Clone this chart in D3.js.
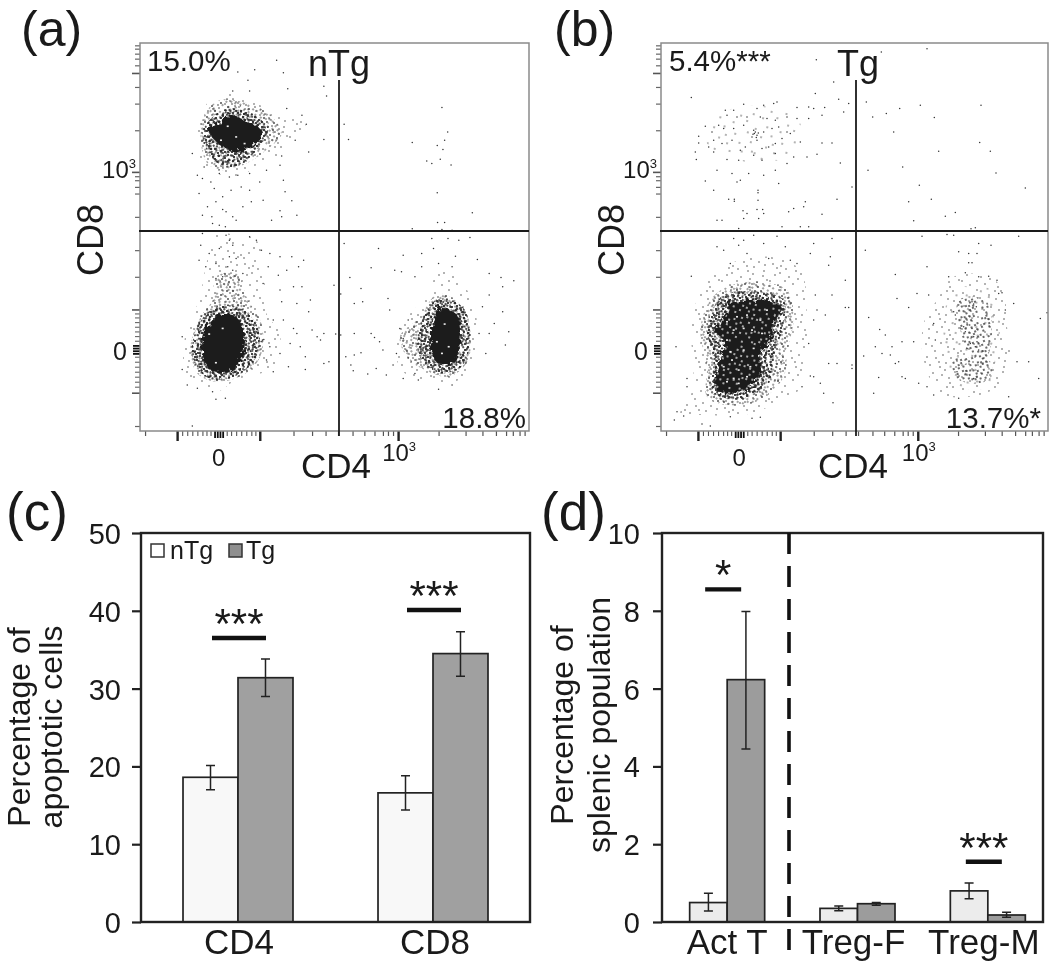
<!DOCTYPE html>
<html><head><meta charset="utf-8">
<script src="https://cdn.jsdelivr.net/npm/d3@7"></script>
<style>html,body{margin:0;background:#fff}svg{display:block;filter:blur(.4px)}text{font-family:"Liberation Sans",Arial,sans-serif;fill:#1a1a1a}</style>
</head><body><div id="c"></div>
<script>
// ---------- bar data ----------
const seriesNames=["nTg","Tg"];
const catsC=["CD4","CD8"];
const nTgC=[18.6,16.6], nTgCLow=[17.0,14.4], nTgCHigh=[20.1,18.8];
const tgC=[31.4,34.5], tgCLow=[29.0,31.6], tgCHigh=[33.8,37.3];
const sigC=[["CD4",36.5,"***"],["CD8",40.1,"***"]];
const catsD=["Act T","Treg-F","Treg-M"];
const nTgD=[0.5,0.35,0.8], nTgDLow=[0.28,0.29,0.6], nTgDHigh=[0.74,0.41,1.0];
const tgD=[6.23,0.47,0.18], tgDLow=[4.45,0.43,0.12], tgDHigh=[7.98,0.5,0.25];
const sigD=[["Act T",8.55,"*"],["Treg-M",1.55,"***"]];
const ticksC=[0,10,20,30,40,50], ticksD=[0,2,4,6,8,10];
// ---------- flow cytometry: channel readings (shared axis channels) ----------
const axisXMajor=[525,770,1180];
const axisXMinor=[430,870,925,965,1002,1045,1080,1110,1135,1150,1165,1300,1380,1430,1470,1500,1520,1540,1555];
const axisXSmall=[540,555,570,585,600,612,624,672,685,700,715,730,745,757];
const axisXDense=[636,644,652,660];
const axisYMajor=[1178,928,515,218];
const axisYMinor=[1278,830,750,650,580,560,540,528,390,310,260,195,175,160,145,135];
const axisYSmall=[1160,1145,1130,1115,1100,1085,1070,1022,1008,994,980,966,952,940];
const axisYDense=[1036,1044,1052,1060];
// dots, [CD4 channel, CD8 channel]
const dotsA=[[820,180],[705,215],[755,208],[840,217],[735,240],[853,265],[960,258],[968,287],[740,272],[690,272],[1310,322],[1327,395],[1020,372],[1033,418],[1222,427],[1318,420],[1296,436],[1313,448],[1265,482],[1280,490],[1305,477],[1337,494],[1296,578],[1400,638],[1297,667],[1318,667],[1222,686],[1310,688],[1340,690],[600,535],[625,545],[650,520],[680,530],[705,525],[740,520],[590,580],[635,565],[660,590],[685,570],[715,560],[740,570],[845,575],[840,540],[830,495],[865,602],[600,645],[628,650],[660,628],[670,635],[690,650],[700,660],[720,620],[830,632],[805,660],[880,645],[835,650],[650,675],[668,680],[630,670],[745,605],[780,600],[640,605],[615,620],[770,545],[790,510],[585,525],[605,500],[570,460],[895,345],[908,372],[875,420],[915,455],[960,418],[850,325],[835,467],[600,700],[670,705],[680,720],[690,735],[740,710],[760,720],[775,750],[595,735],[620,760],[650,745],[680,770],[700,775],[640,790],[675,800],[690,810],[720,820],[660,830],[640,835],[610,800],[590,780],[800,760],[830,770],[865,770],[900,780],[795,800],[825,825],[850,810],[885,800],[780,850],[830,870],[870,860],[895,860],[880,910],[920,900],[835,905],[990,855],[1010,882],[915,935],[960,1000],[925,990],[995,1002],[870,985],[840,960],[810,960],[860,1030],[890,1040],[905,1070],[960,1090],[975,1085],[905,1108],[855,1100],[810,1115],[778,1020],[782,1018],[774,1024],[790,1080],[800,1040],[830,1060],[880,1000],[950,1020],[940,1010],[570,1278],[640,1198],[668,1195],[555,1155],[585,1165],[630,1175],[540,1108],[540,1010],[1020,730],[1122,745],[1195,765],[1250,760],[1285,745],[1280,715],[1328,715],[1360,720],[1393,712],[1350,768],[1415,778],[1100,803],[1037,832],[1070,865],[1170,810],[1190,815],[1230,830],[1250,800],[1300,790],[1340,800],[1450,820],[1485,832],[1523,842],[1490,860],[1490,935],[1465,970],[1450,885],[1430,920],[1508,995],[1498,1035],[1420,1000],[1050,910],[1075,905],[1150,895],[1155,930],[1050,1000],[1100,1000],[1110,1012],[1125,1025],[1135,1050],[1070,1058],[1050,1065],[1025,1070],[1040,1095],[1047,1112],[1090,1122],[1115,1105],[1145,1125],[1165,1095],[1195,1135],[1240,1140],[1300,1168],[1340,1155],[1010,1005],[1185,985],[1195,1015],[1210,960],[1175,1060],[1230,1120],[1450,1000],[1440,1060]];
const gapsA=[[675,378],[655,420],[700,410],[725,430],[620,1002],[640,1088],[660,985],[1318,972],[1295,1025],[1330,1040],[1310,1060]];
const regionsA=[
 [1,[[650,280],[720,285],[790,325],[850,345],[905,370],[880,420],[830,465],[760,495],[720,525],[660,525],[600,495],[580,430],[585,370],[610,315]]],
 [2,[[650,300],[720,305],[795,340],[835,400],[795,445],[730,490],[660,510],[615,490],[595,420],[605,345]]],
 [3,[[680,325],[745,340],[795,385],[760,450],[695,500],[635,480],[600,400],[630,350]]],
 [4,[[690,345],[730,365],[770,385],[772,412],[745,440],[700,455],[660,440],[630,412],[618,388],[655,368]]],
 [1,[[640,700],[700,705],[760,720],[785,850],[790,940],[830,1000],[810,1100],[700,1140],[640,1175],[555,1135],[550,1000],[590,900],[610,800]]],
 [2,[[640,830],[700,820],[735,900],[775,970],[775,1060],[735,1115],[650,1145],[585,1120],[565,1040],[595,950],[630,900]]],
 [3,[[640,920],[715,925],[765,985],[762,1065],[705,1125],[620,1135],[572,1075],[582,985]]],
 [4,[[650,945],[700,950],[725,1010],[720,1060],[680,1115],[625,1110],[600,1060],[610,990]]],
 [1,[[1300,810],[1350,830],[1400,900],[1415,1000],[1400,1090],[1340,1150],[1250,1140],[1190,1110],[1170,1020],[1200,960],[1270,880]]],
 [2,[[1300,880],[1370,920],[1395,1000],[1385,1085],[1330,1130],[1260,1110],[1210,1075],[1185,1010],[1240,955]]],
 [3,[[1300,895],[1375,925],[1392,1020],[1372,1095],[1310,1120],[1250,1080],[1238,1000],[1265,935]]],
 [4,[[1305,925],[1355,945],[1365,1010],[1345,1085],[1300,1090],[1280,1060],[1280,980]]]
];
// dots
const dotsB=[[1190,145],[858,178],[1053,155],[910,245],[483,292],[855,280],[925,297],[955,310],[940,335],[883,322],[875,345],[835,320],[850,325],[800,322],[740,305],[730,310],[700,315],[680,325],[640,312],[610,330],[585,330],[590,345],[620,350],[650,350],[690,350],[710,355],[735,360],[770,350],[800,355],[835,355],[565,375],[525,378],[505,408],[545,395],[580,385],[610,385],[640,375],[670,390],[675,395],[680,405],[665,410],[672,400],[684,398],[668,402],[678,412],[700,395],[725,385],[745,380],[770,395],[780,400],[755,415],[735,430],[715,440],[695,445],[680,420],[645,440],[630,450],[605,420],[575,430],[550,420],[535,440],[505,428],[495,455],[498,478],[550,455],[590,478],[625,480],[670,465],[695,480],[735,460],[770,490],[790,470],[810,425],[875,428],[905,428],[860,462],[830,470],[930,488],[560,510],[605,520],[630,540],[655,520],[700,525],[735,510],[745,550],[525,542],[550,570],[620,545],[683,570],[683,578],[683,600],[595,597],[612,597],[612,603],[825,605],[790,625],[775,635],[820,620],[920,597],[965,560],[638,632],[650,640],[680,628],[697,628],[700,640],[685,655],[640,655],[560,660],[575,660],[810,680],[835,680],[875,642],[755,680],[625,685],[1008,305],[1170,315],[1108,325],[1068,340],[1027,350],[1212,352],[1352,315],[1090,395],[1348,427],[1225,453],[1380,453],[1117,500],[1013,510],[1397,518],[1167,555],[1485,563],[1135,605],[1203,597],[1275,637],[1245,648],[1150,662],[1322,686],[1335,683],[1175,708],[1250,703],[1270,705],[1465,708],[1382,735],[1345,730],[1285,755],[1315,760],[1340,760],[1005,750],[1095,823],[1190,800],[1315,788],[1325,788],[1255,830],[1305,818],[1345,830],[1375,828],[1400,840],[1160,880],[1195,885],[1100,895],[1135,922],[1450,910],[1425,930],[1530,955],[1550,938],[1015,952],[1048,988],[1065,1005],[1035,1040],[1085,1040],[1055,1060],[1115,1025],[1150,1025],[1000,1068],[1105,1085],[1080,1065],[1095,1090],[1045,1132],[1115,1130],[1125,1135],[1165,1150],[1030,1180],[1190,1160],[1210,1185],[1285,1195],[1435,1190],[1460,1085],[1495,1085],[1525,1135],[835,1030],[860,930],[885,945],[905,885],[855,885],[850,960],[945,922],[955,922],[925,990],[895,1090],[920,1090],[965,1095],[965,1105],[840,1128],[850,1130],[870,1150],[880,1180],[908,1208],[815,1160],[900,770],[895,795],[850,730],[840,760],[905,715],[780,780],[800,790],[945,840],[483,828],[437,1040],[470,1135],[470,1160],[440,1235],[460,1248],[432,1260],[515,1272],[540,1278],[600,1250],[665,1255],[690,1252],[600,790],[560,740],[580,750],[610,715],[640,720],[670,705],[700,730],[740,708],[765,740],[715,775],[650,760],[625,735],
 [1325,905],[1330,912],[1338,920],[1320,930],[1270,935],[1275,945],[1310,960],[1318,975],[1325,985],[1300,980],[1305,995],[1330,1010],[1340,1025],[1320,1030],[1335,1040],[1345,1050],[1310,1045],[1280,1115],[1310,1125],[1330,1135],[1370,1125],[1210,970],[1215,1020],[1405,880],[1415,878]];
const gapsB=[[620,950],[650,945],[690,960],[610,990],[640,985],[665,990],[695,1000],[590,1020],[600,1055],[640,1050],[605,1080],[580,1100],[660,1100],[625,1110],[610,1135],[650,1130],[590,1145],[625,1150],[660,1160],[710,930],[590,965],[575,1050],[700,1090],[670,1045]];
const regionsB=[
 [0,[[590,330],[720,320],[810,370],[790,450],[700,490],[600,470],[530,430],[540,370]]],
 [1,[[600,790],[720,770],[810,810],[830,950],[825,1070],[810,1165],[740,1210],[640,1245],[520,1245],[450,1240],[480,1190],[490,1090],[480,980],[520,860]]],
 [2,[[590,860],[680,845],[770,870],[790,950],[770,1060],[760,1130],[690,1200],[590,1215],[530,1190],[530,1100],[510,990],[540,900]]],
 [3,[[580,885],[680,875],[760,900],[755,990],[730,1070],[720,1140],[660,1190],[580,1195],[545,1170],[550,1080],[530,980]]],
 [4,[[600,905],[660,900],[700,900],[755,925],[730,960],[725,1005],[690,1060],[685,1130],[640,1175],[560,1170],[565,1090],[585,1030],[555,990],[590,940]]],
 [6,[[600,905],[660,900],[700,900],[755,925],[730,960],[725,1005],[690,1060],[685,1130],[640,1175],[560,1170],[565,1090],[585,1030],[555,990],[590,940]]],
 [1,[[1270,830],[1380,830],[1420,880],[1430,980],[1440,1070],[1400,1160],[1320,1190],[1230,1180],[1180,1080],[1180,970],[1220,900]]],
 [0,[[1270,870],[1385,870],[1410,970],[1395,1070],[1390,1150],[1330,1170],[1260,1150],[1245,1060],[1240,960]]],
 [5,[[1285,900],[1365,900],[1385,1000],[1365,1075],[1320,1060],[1290,990]]],
 [5,[[1265,1080],[1380,1085],[1380,1135],[1320,1150],[1275,1130]]]
];
// ---------- stipple texture (one tile, px within the tile) ----------
const stippleTile=[[3,5],[17,2],[29,7],[41,3],[9,13],[23,15],[36,11],[46,17],[5,24],[15,21],[27,26],[39,22],[12,33],[21,37],[33,34],[44,31],[2,41],[10,45],[25,44],[37,42],[47,40],[18,29],[31,19],[7,35],[42,13],[14,8],[35,3],[20,10],[1,15],[28,31],[45,25],[9,28],[38,47],[17,41],[30,39],[43,36],[4,18],[24,22],[13,26],[34,27],
[6,9],[11,2],[23,5],[33,8],[46,7],[16,15],[27,12],[40,8],[3,29],[19,24],[31,24],[41,17],[8,20],[22,31],[36,17],[47,29],[6,38],[15,35],[26,36],[39,33],[1,46],[13,40],[21,46],[32,44],[43,44],[12,18],[25,18],[37,29],[0,33],[18,45],[29,47],[42,27],[5,13],[20,19],[35,23],[10,37],[28,41],[44,21],[15,11],[38,5],[7,44],[24,34],[33,14],[46,37],[3,21],[17,32],[41,40],[30,2],[11,24],[26,9],[39,38],[14,44],[22,26],[47,11],[2,36],[35,36],[19,5],[44,6],[8,31],[29,22],[36,45],[16,27],[24,40],[43,10],[0,10],[12,47],[32,30],[6,17],[40,29],[21,13]];
// ---------- layout ----------
const W=1050,H=962;
const svg=d3.select("#c").append("svg").attr("width",W).attr("height",H);
const defs=svg.append("defs");
const ink="#222";
function tile(id,n,r,rot,col){
  const p=defs.append("pattern").attr("id",id).attr("patternUnits","userSpaceOnUse").attr("width",48).attr("height",48).attr("patternTransform",`rotate(${rot})`);
  p.selectAll("circle").data(stippleTile.slice(0,n)).join("circle").attr("cx",d=>d[0]).attr("cy",d=>d[1]).attr("r",r).attr("fill",col||"#2a2a2a");
}
tile("s0",22,.7,12);tile("s1",40,.7,0);tile("s2",110,.75,0);tile("s2b",110,.8,37);tile("s3a",110,1.05,0);tile("s3b",110,1.05,53);tile("s3c",110,1.05,21);tile("s5a",110,.95,70);tile("w1",60,.95,15,"#e4e4e4");
const levelFills={0:["s0"],1:["s1"],2:["s2","s2b"],3:["s3a","s3b","s3c"],4:["#1c1c1c"],5:["s5a"],6:["w1"]};
const rough=defs.append("filter").attr("id","rough").attr("x","-10%").attr("y","-10%").attr("width","120%").attr("height","120%");
rough.append("feTurbulence").attr("type","fractalNoise").attr("baseFrequency",.22).attr("numOctaves",2).attr("seed",4).attr("result","n");
rough.append("feDisplacementMap").attr("in","SourceGraphic").attr("in2","n").attr("scale",9);
let clipN=0;
function scatter(o){
  const x=d3.scaleLinear().domain(o.xDom).range([o.l,o.r]);
  const y=d3.scaleLinear().domain([1293,128]).range([431,43]);
  const xT=d3.scaleLinear().domain([415,1568]).range([o.l,o.r]);
  const g=svg.append("g");
  const id="clip"+(clipN++);
  defs.append("clipPath").attr("id",id).append("rect").attr("x",o.l).attr("y",43).attr("width",o.r-o.l).attr("height",388);
  const plot=g.append("g").attr("clip-path",`url(#${id})`);
  const line=d3.line().x(d=>x(d[0])).y(d=>y(d[1])).curve(d3.curveCatmullRomClosed.alpha(.5));
  o.regions.forEach(([lv,pts])=>{
    levelFills[lv].forEach(f=>{
      const p=plot.append("path").attr("d",line(pts)).attr("fill",f.startsWith("#")?f:`url(#${f})`);
      if(lv===4) p.attr("filter","url(#rough)");
    });
  });
  plot.selectAll(".d").data(o.dots).join("circle").attr("cx",d=>x(d[0])).attr("cy",d=>y(d[1])).attr("r",.75).attr("fill","#333");
  plot.selectAll(".w").data(o.gaps).join("rect").attr("x",d=>x(d[0])-1).attr("y",d=>y(d[1])-.8).attr("width",2).attr("height",1.6).attr("fill","#eee");
  // axes
  const ax=(vals,size,w,col)=>{
    const a=g.append("g").attr("transform",`translate(0,431)`).call(d3.axisBottom(xT).tickValues(vals).tickSize(size).tickFormat(""));
    a.select(".domain").remove();a.selectAll("line").attr("stroke",col).attr("stroke-width",w);
  };
  ax(axisXMajor,10,2.4,"#222");ax(axisXMinor,5,1.2,"#555");ax(axisXSmall,5,1.1,"#555");ax(axisXDense,7,1.8,"#111");
  const ay=(vals,size,w,col)=>{
    const a=g.append("g").attr("transform",`translate(${o.l},0)`).call(d3.axisLeft(y).tickValues(vals).tickSize(size).tickFormat(""));
    a.select(".domain").remove();a.selectAll("line").attr("stroke",col).attr("stroke-width",w);
  };
  ay(axisYMajor,8,1.6,"#555");ay(axisYMinor,5,1.2,"#666");ay(axisYSmall,5,1.1,"#666");ay(axisYDense,7,1.8,"#111");
  // box + gates
  g.append("rect").attr("x",o.l).attr("y",43).attr("width",o.r-o.l).attr("height",388).attr("fill","none").attr("stroke","#8a8a8a").attr("stroke-width",1.5);
  g.append("line").attr("x1",o.l-1).attr("x2",o.r).attr("y1",231).attr("y2",231).attr("stroke","#1a1a1a").attr("stroke-width",1.8);
  g.append("line").attr("x1",o.v).attr("x2",o.v).attr("y1",80).attr("y2",436).attr("stroke","#1a1a1a").attr("stroke-width",1.8);
  // text
  const t=(s,px,py,fs,anchor="start")=>g.append("text").attr("x",px).attr("y",py).attr("font-size",fs).attr("text-anchor",anchor).text(s);
  t(o.letter,o.letterX,46,50);
  t(o.ul,o.ulX,71,29.5);
  t(o.name,o.nameX,76,36,"middle");
  t(o.lr,o.lrX,428,29.5,"end");
  t("CD4",o.v+32,478,35,"end");
  g.append("text").attr("transform",`translate(${o.l-37},240) rotate(-90)`).attr("font-size",36).attr("text-anchor","middle").text("CD8");
  t("0",xT(648),466,24,"middle");
  t("0",o.l-13,360,25,"end");
  const sup=(px,py)=>{const e=t("10",px,py,24,"end");e.append("tspan").attr("font-size",13).attr("dy",-10).text("3");};
  sup(o.l-4,178);sup(xT(1180)+18,461);
}
scatter({l:140,r:529,v:339,xDom:[415,1568],regions:regionsA,dots:dotsA,gaps:gapsA,letter:"(a)",letterX:21,ul:"15.0%",ulX:147,name:"nTg",nameX:339,lr:"18.8%",lrX:526});
scatter({l:661,r:1048,v:856,xDom:[392,1553],regions:regionsB,dots:dotsB,gaps:gapsB,letter:"(b)",letterX:554,ul:"5.4%***",ulX:669,name:"Tg",nameX:858,lr:"13.7%*",lrX:1041});

function bars(o){
  const g=svg.append("g");
  const y=d3.scaleLinear().domain(o.yDom).range([922,533]);
  const x0=d3.scaleBand().domain(o.cats).range(o.bandRange).paddingInner(o.pi).paddingOuter(o.pi/2);
  const x1=d3.scaleBand().domain(seriesNames).range([0,x0.bandwidth()]);
  seriesNames.forEach((s,si)=>{
    const vals=o.vals[si],lo=o.lo[si],hi=o.hi[si];
    g.selectAll(".b"+s).data(o.cats).join("rect").attr("x",d=>x0(d)+x1(s)).attr("width",x1.bandwidth())
      .attr("y",(d,i)=>y(vals[i])).attr("height",(d,i)=>y(0)-y(vals[i])).attr("fill",o.fills[si]).attr("stroke",ink).attr("stroke-width",1.7);
    o.cats.forEach((c,i)=>{
      const cx=x0(c)+x1(s)+x1.bandwidth()/2;
      const path=d3.path();
      path.moveTo(cx,y(lo[i]));path.lineTo(cx,y(hi[i]));
      path.moveTo(cx-4.5,y(lo[i]));path.lineTo(cx+4.5,y(lo[i]));
      path.moveTo(cx-4.5,y(hi[i]));path.lineTo(cx+4.5,y(hi[i]));
      g.append("path").attr("d",path.toString()).attr("fill","none").attr("stroke",ink).attr("stroke-width",1.5);
    });
  });
  // frame
  g.append("rect").attr("x",o.l).attr("y",533).attr("width",o.r-o.l).attr("height",389).attr("fill","none").attr("stroke",ink).attr("stroke-width",2.4);
  const a=g.append("g").attr("transform",`translate(${o.l},0)`).call(d3.axisLeft(y).tickValues(o.ticks).tickSize(9).tickPadding(o.pad));
  a.select(".domain").remove();
  a.selectAll("line").attr("stroke",ink).attr("stroke-width",2.2);
  a.selectAll("text").attr("font-size",29).attr("font-family",'"Liberation Sans"').attr("fill","#1a1a1a").attr("dy","0.36em");
  // categories
  g.selectAll(".cat").data(o.cats).join("text").attr("font-size",35).attr("text-anchor","middle")
    .attr("x",(d,i)=>x0(d)+x0.bandwidth()/2+o.catDx[i]).attr("y",954).text(d=>d);
  // significance
  o.sig.forEach(([c,v,s])=>{
    const cx=x0(c)+x0.bandwidth()/2+o.sigDx;
    g.append("line").attr("x1",cx-o.sigW).attr("x2",cx+o.sigW).attr("y1",y(v)).attr("y2",y(v)).attr("stroke","#111").attr("stroke-width",4.4);
    g.append("text").attr("x",cx).attr("y",y(v)).attr("text-anchor","middle").attr("font-size",42).text(s);
  });
  // y titles
  const tt=(s,px)=>g.append("text").attr("transform",`translate(${px},${o.titleY}) rotate(-90)`).attr("text-anchor","middle").attr("font-size",32).text(s);
  tt(o.t1,o.t1x);tt(o.t2,o.t2x);
  g.append("text").attr("x",o.letterX).attr("y",530).attr("font-size",53).text(o.letter);
  return {g,y,x0};
}
bars({cats:catsC,yDom:[0,50],ticks:ticksC,bandRange:[140.5,530.5],pi:.436,l:141,r:530,pad:11,
  vals:[nTgC,tgC],lo:[nTgCLow,tgCLow],hi:[nTgCHigh,tgCHigh],fills:["#f8f8f8","#a0a0a0"],catDx:[1,2],
  sig:sigC,sigDx:1,sigW:27,t1:"Percentage of",t2:"apoptotic cells",t1x:30,t2x:62,titleY:727,letter:"(c)",letterX:6});
const leg=svg.append("g");
const legendX=d3.scaleOrdinal().domain(seriesNames).range([151,229]);
seriesNames.forEach((s,i)=>{
  leg.append("rect").attr("x",legendX(s)).attr("y",544).attr("width",13).attr("height",13).attr("fill",i?"#8f8f8f":"#fff").attr("stroke","#333").attr("stroke-width",1.5);
  leg.append("text").attr("x",legendX(s)+(i?17:19)).attr("y",559).attr("font-size",25).text(s);
});
const d=bars({cats:catsD,yDom:[0,10],ticks:ticksD,bandRange:[662,1053],pi:.4246,l:662,r:1043,pad:13,
  vals:[nTgD,tgD],lo:[nTgDLow,tgDLow],hi:[nTgDHigh,tgDHigh],fills:["#ececec","#9c9c9c"],catDx:[0,-4,-4],
  sig:sigD,sigDx:-4,sigW:18,t1:"Percentage of",t2:"splenic population",t1x:573,t2x:610,titleY:725,letter:"(d)",letterX:541});
d.g.append("line").attr("x1",789).attr("x2",789).attr("y1",533).attr("y2",956).attr("stroke","#111").attr("stroke-width",3.6).attr("stroke-dasharray","21 12");
</script></body></html>
